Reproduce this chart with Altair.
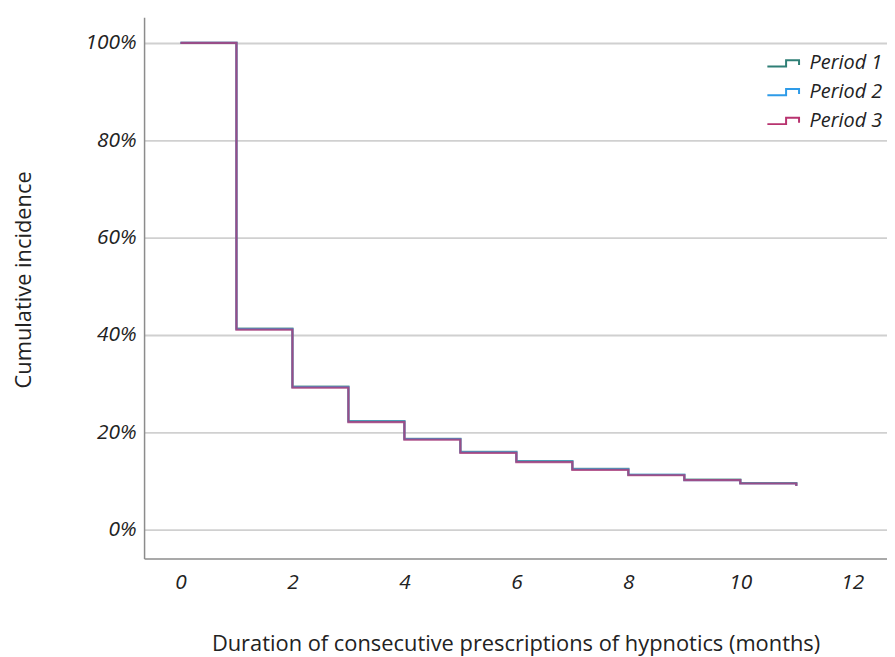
import altair as alt
import pandas as pd

months = [0, 1, 2, 3, 4, 5, 6, 7, 8, 9, 10, 11]
period1 = [1.000, 0.413, 0.294, 0.223, 0.187, 0.160, 0.141, 0.125, 0.113, 0.103, 0.096, 0.091]
period2 = [1.000, 0.412, 0.293, 0.222, 0.186, 0.159, 0.140, 0.124, 0.113, 0.102, 0.095, 0.090]
period3 = [1.000, 0.411, 0.292, 0.221, 0.185, 0.158, 0.139, 0.123, 0.112, 0.102, 0.095, 0.090]
series = ["Period 1", "Period 2", "Period 3"]
colors = ["#2f7f76", "#2e9be8", "#b8336f"]
x_ticks = [0, 2, 4, 6, 8, 10, 12]
y_ticks = [0, 0.2, 0.4, 0.6, 0.8, 1.0]

rows = []
for name, vals in zip(series, [period1, period2, period3]):
    for m, v in zip(months, vals):
        rows.append({"month": m, "value": v, "period": name})
df = pd.DataFrame(rows)

step_path = "M-1.1,0.22L0.2,0.22L0.2,-0.22L1.1,-0.22L1.1,0.12"

chart = alt.Chart(df).mark_line(interpolate="step-after", strokeWidth=2.2, opacity=0.75).encode(
    x=alt.X("month:Q",
            scale=alt.Scale(domain=[-0.65, 12.62], nice=False, zero=False),
            axis=alt.Axis(values=x_ticks, grid=False, ticks=False, domain=True,
                          domainColor="#8c8c8c", domainWidth=1.5,
                          labelFontStyle="italic", labelFontSize=21, labelColor="#222222",
                          labelFont="Open Sans", labelPadding=13,
                          title="Duration of consecutive prescriptions of hypnotics (months)",
                          titleFont="Open Sans", titleFontSize=22, titleFontWeight="normal",
                          titleColor="#222222", titleBaseline="middle", titleY=86)),
    y=alt.Y("value:Q",
            scale=alt.Scale(domain=[-0.059, 1.053], nice=False, zero=False),
            axis=alt.Axis(values=y_ticks, format=".0%", grid=True, gridColor="#d0d0d0",
                          gridWidth=1.8, ticks=False, domain=True,
                          domainColor="#8c8c8c", domainWidth=1.5,
                          labelFontStyle="italic", labelFontSize=21, labelColor="#222222",
                          labelFont="Open Sans", labelPadding=8,
                          title="Cumulative incidence",
                          titleFont="Open Sans", titleFontSize=22, titleFontWeight="normal",
                          titleColor="#222222", titleX=-121, titleY=264,
                          titleAngle=270, titleBaseline="middle", titleAlign="center")),
    color=alt.Color("period:N",
                    scale=alt.Scale(domain=series, range=colors),
                    legend=alt.Legend(title=None, orient="none", legendX=628, legendY=31,
                                      padding=0,
                                      symbolType=step_path, symbolSize=841,
                                      symbolStrokeWidth=2, symbolFillColor="transparent",
                                      symbolOpacity=1,
                                      labelFontStyle="italic", labelFontSize=20,
                                      labelFont="Open Sans", labelColor="#222222",
                                      labelOffset=11, rowPadding=3)),
    order=alt.Order("period:N"),
).properties(
    width=748, height=545,
    autosize=alt.AutoSizeParams(type="none"),
    padding={"left": 137, "top": 7, "right": 0, "bottom": 100},
).configure_view(stroke=None)

chart.save("out.html", embed_options={"renderer": "svg", "actions": False})
